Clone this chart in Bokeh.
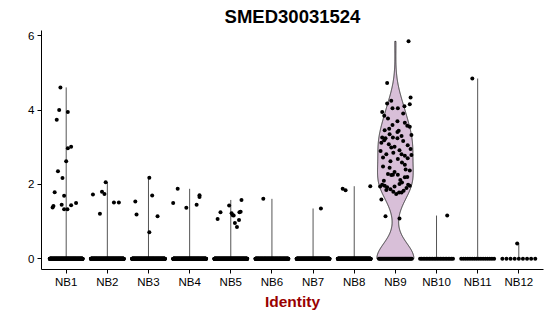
import numpy as np
from bokeh.plotting import figure
from bokeh.models import FixedTicker, Range1d, ColumnDataSource
from bokeh.embed import file_html
from bokeh.resources import INLINE

# ---------------- data ----------------
categories = ["NB1", "NB2", "NB3", "NB4", "NB5", "NB6",
              "NB7", "NB8", "NB9", "NB10", "NB11", "NB12"]

# number of cells with zero expression per identity (overlapping dots)
zero_counts = [300, 300, 300, 300, 300, 260, 300, 300, 34, 22, 16, 9]

# non-zero expression values and their horizontal jitter per identity
nb1_values = [4.61, 4.00, 3.95, 3.74, 2.97, 3.01, 2.62, 2.35, 2.17, 1.79,
              1.69, 1.38, 1.42, 1.45, 1.33, 1.33, 1.44, 1.50]
nb1_jitter = [-0.14, -0.17, 0.04, -0.23, 0.04, 0.12, 0.0, -0.20, -0.09, -0.28,
              -0.05, -0.33, -0.31, -0.11, -0.05, 0.03, 0.12, 0.24]
nb2_values = [2.06, 1.73, 1.80, 1.74, 1.51, 1.51, 1.21]
nb2_jitter = [-0.04, -0.35, -0.13, -0.07, 0.16, 0.28, -0.18]
nb3_values = [2.18, 1.54, 1.70, 1.19, 1.14, 0.71]
nb3_jitter = [0.02, -0.32, 0.09, -0.29, 0.22, 0.02]
nb4_values = [1.88, 1.50, 1.37, 1.45, 1.71, 1.66]
nb4_jitter = [-0.29, -0.40, -0.08, 0.17, 0.24, 0.24]
nb5_values = [1.58, 1.43, 1.25, 1.07, 1.22, 1.17, 1.16, 1.26, 1.25, 1.04, 0.96, 0.85]
nb5_jitter = [0.26, -0.04, -0.25, -0.32, 0.02, 0.05, 0.07, 0.24, 0.21, 0.20, 0.10, 0.15]
nb6_values = [1.61]
nb6_jitter = [-0.21]
nb7_values = [1.35]
nb7_jitter = [0.19]
nb8_values = [1.88, 1.84, 1.95]
nb8_jitter = [-0.28, -0.21, 0.39]
nb9_values = [5.85, 4.73, 4.18, 4.25, 4.34, 4.16, 3.95, 4.05, 4.05, 3.77,
              3.91, 3.66, 3.58, 3.55, 3.60, 3.46, 3.44, 3.41, 3.35, 3.33,
              3.26, 3.24, 3.19, 3.26, 3.08, 3.24, 3.17, 2.99, 3.01, 2.90,
              2.95, 2.81, 2.72, 2.81, 2.77, 2.79, 2.68, 2.59, 2.53, 2.45,
              2.37, 2.28, 2.25, 2.26, 2.26, 2.19, 2.20, 1.99, 1.96, 1.94,
              1.92, 1.87, 1.94, 2.01, 2.05, 1.96, 1.99, 1.74, 1.78, 1.78,
              1.59, 1.14, 1.08,
              1.85, 1.83, 1.80, 1.90, 2.10, 2.12, 2.33, 2.40, 2.48, 2.62,
              2.70, 2.85, 2.92, 3.05, 3.12, 3.30, 3.50, 3.70, 3.85, 4.10]
nb9_jitter = [0.32, -0.20, -0.20, -0.10, 0.37, 0.35, -0.32, -0.07, 0.06, -0.18,
              0.19, 0.23, 0.29, 0.35, -0.07, -0.26, 0.08, 0.05, -0.14, 0.39,
              -0.32, -0.24, -0.27, -0.06, -0.16, 0.05, 0.19, -0.10, -0.02, -0.36,
              0.37, -0.22, -0.30, 0.15, 0.23, 0.39, 0.06, 0.16, 0.23, -0.14,
              0.35, -0.18, -0.10, -0.06, 0.06, 0.23, 0.29, -0.32, -0.26, -0.37,
              -0.20, -0.12, -0.02, 0.10, 0.16, 0.35, 0.31, 0.02, 0.09, 0.15,
              -0.34, -0.24, 0.10,
              -0.22, 0.20, -0.05, 0.27, -0.28, 0.12, -0.02, 0.25, -0.30, -0.12,
              0.30, -0.05, 0.10, 0.30, -0.34, 0.15, -0.15, 0.05, -0.27, 0.22]
nb10_values = [1.16]
nb10_jitter = [0.26]
nb11_values = [4.85]
nb11_jitter = [-0.13]
nb12_values = [0.41]
nb12_jitter = [-0.04]

all_values = [nb1_values, nb2_values, nb3_values, nb4_values, nb5_values, nb6_values,
              nb7_values, nb8_values, nb9_values, nb10_values, nb11_values, nb12_values]
all_jitter = [nb1_jitter, nb2_jitter, nb3_jitter, nb4_jitter, nb5_jitter, nb6_jitter,
              nb7_jitter, nb8_jitter, nb9_jitter, nb10_jitter, nb11_jitter, nb12_jitter]

y_ticks = [0, 2, 4, 6]
title_text = "SMED30031524"
x_label = "Identity"

# ---------------- figure ----------------
ymax = max(max(v) for v in all_values)
ypad = 0.05 * ymax

p = figure(width=550, height=316, output_backend="svg", toolbar_location=None,
           x_range=Range1d(0.4, len(categories) + 0.6),
           y_range=Range1d(-ypad, ymax + ypad),
           min_border_left=41, min_border_right=7, min_border_top=30, min_border_bottom=47)
p.frame_width = 502
p.frame_height = 239
p.background_fill_color = "white"
p.border_fill_color = "white"
p.outline_line_color = None
p.grid.visible = False

p.title.text = title_text
p.title.align = "center"
p.title.text_font = "Liberation Sans"
p.title.text_font_style = "bold"
p.title.text_font_size = "18.5px"
p.title.text_color = "black"
p.title.standoff = 7

for ax in (p.xaxis[0], p.yaxis[0]):
    ax.axis_line_color = "black"
    ax.axis_line_width = 1
    ax.major_tick_line_color = "black"
    ax.major_tick_line_width = 1
    ax.major_tick_out = 4
    ax.major_tick_in = 0
    ax.minor_tick_line_color = None
    ax.major_label_text_font = "Liberation Sans"
    ax.major_label_text_font_size = "11.5px"
    ax.major_label_text_color = "black"

p.xaxis.ticker = FixedTicker(ticks=list(range(1, len(categories) + 1)))
p.xaxis.major_label_overrides = {i + 1: c for i, c in enumerate(categories)}
p.xaxis.major_label_standoff = 2
p.xaxis.axis_label = x_label
p.xaxis.axis_label_text_font = "Liberation Sans"
p.xaxis.axis_label_text_font_style = "bold"
p.xaxis.axis_label_text_font_size = "15.5px"
p.xaxis.axis_label_text_color = "#990000"
p.xaxis.axis_label_standoff = 2

p.yaxis.ticker = FixedTicker(ticks=y_ticks)
p.yaxis.major_label_standoff = 3

BW_ADJUST = 0.8


def nrd0(x):
    x = np.asarray(x, float)
    hi = np.std(x, ddof=1)
    q75, q25 = np.percentile(x, [75, 25])
    lo = min(hi, (q75 - q25) / 1.34) if (q75 - q25) > 0 else hi
    return 0.9 * lo * len(x) ** -0.2


# ---------------- violins ----------------
seg_x, seg_y0, seg_y1 = [], [], []
for i, (vals, nz) in enumerate(zip(all_values, zero_counts)):
    pos = i + 1
    data = np.array(list(vals) + [0.0] * nz)
    nonzero_share = len(vals) / len(data)
    if nonzero_share > 0.5:
        h = nrd0(data) * BW_ADJUST
        grid = np.linspace(0, data.max(), 512)
        dens = np.exp(-0.5 * ((grid[:, None] - data[None, :]) / h) ** 2).sum(axis=1)
        half = dens / dens.max() * 0.45
        xs = np.concatenate([pos + half, (pos - half)[::-1]])
        ys = np.concatenate([grid, grid[::-1]])
        p.patch(xs, ys, fill_color="#D8BFD8", line_color="#333333", line_width=1)
    else:
        seg_x.append(pos)
        seg_y0.append(0.0)
        seg_y1.append(max(vals))

p.segment(x0=seg_x, y0=seg_y0, x1=seg_x, y1=seg_y1, line_color="#555555", line_width=1)

# ---------------- points ----------------
px, py = [], []
for i, (vals, jit, nz) in enumerate(zip(all_values, all_jitter, zero_counts)):
    pos = i + 1
    px += [pos + j for j in jit]
    py += list(vals)
    offs = np.linspace(-0.4, 0.4, nz)
    px += list(pos + offs)
    py += [0.0] * nz

src = ColumnDataSource(dict(x=px, y=py))
p.scatter("x", "y", source=src, size=4, fill_color="black", line_color=None)

open("out.html", "w").write(file_html(p, INLINE))
